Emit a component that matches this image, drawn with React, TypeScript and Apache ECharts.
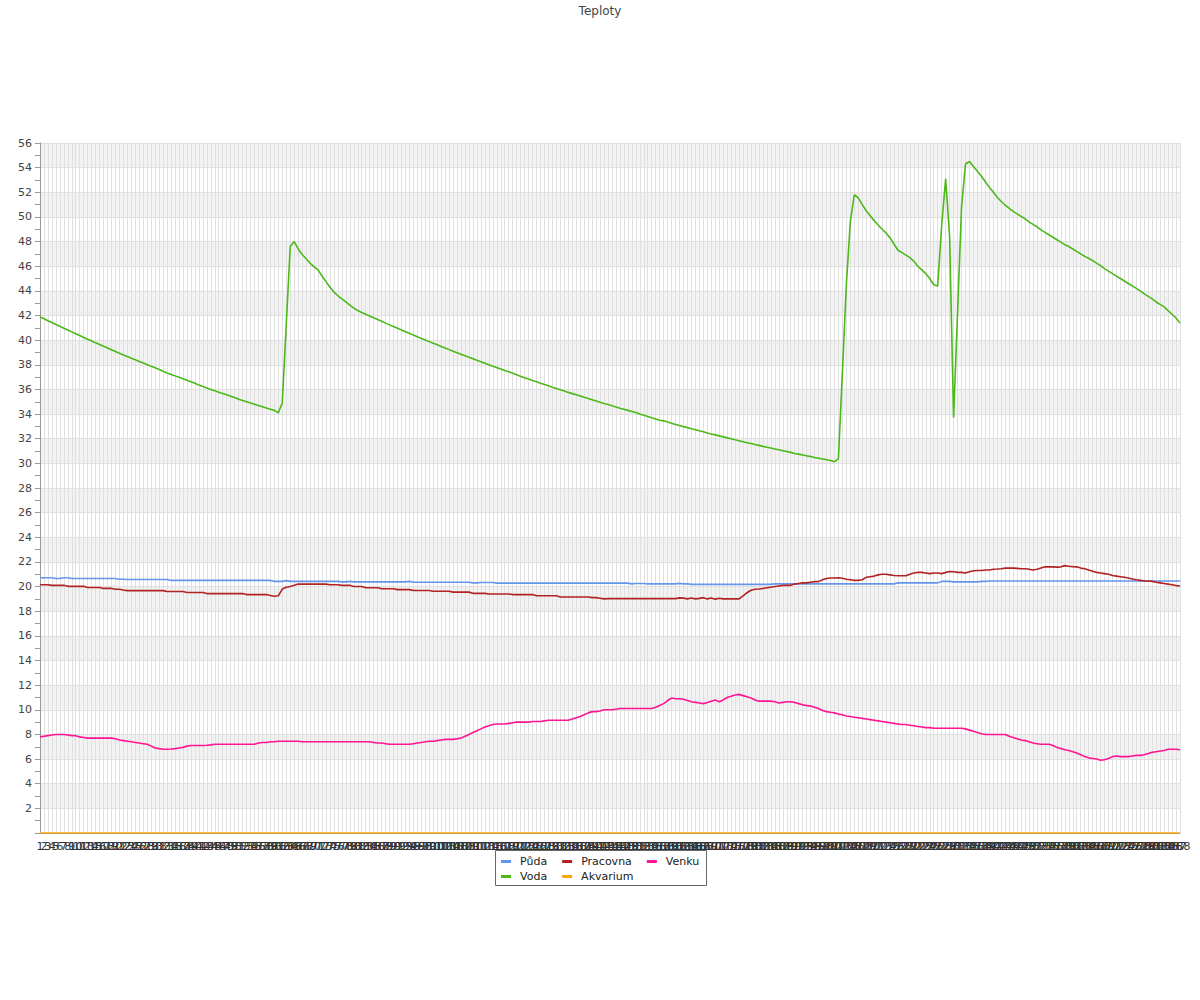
import React, { useEffect, useRef } from "react";
import * as echarts from "echarts";

const categories: string[] = Array.from({ length: 288 }, (_, i) => String(i + 1));

const puda: number[] = [
  20.72, 20.72, 20.72, 20.72, 20.65, 20.65, 20.72, 20.72, 20.65, 20.65, 20.65, 20.65,
  20.65, 20.65, 20.65, 20.65, 20.65, 20.65, 20.65, 20.65, 20.6, 20.6, 20.58, 20.58,
  20.58, 20.58, 20.58, 20.58, 20.58, 20.58, 20.58, 20.58, 20.58, 20.5, 20.5, 20.5,
  20.5, 20.5, 20.5, 20.5, 20.5, 20.5, 20.5, 20.5, 20.5, 20.5, 20.5, 20.5,
  20.5, 20.5, 20.5, 20.5, 20.5, 20.5, 20.5, 20.5, 20.5, 20.5, 20.5, 20.42,
  20.42, 20.42, 20.48, 20.42, 20.42, 20.42, 20.42, 20.42, 20.42, 20.42, 20.42, 20.42,
  20.42, 20.42, 20.42, 20.42, 20.38, 20.38, 20.42, 20.38, 20.38, 20.38, 20.38, 20.38,
  20.38, 20.38, 20.38, 20.38, 20.38, 20.38, 20.38, 20.38, 20.38, 20.42, 20.35, 20.35,
  20.35, 20.35, 20.35, 20.35, 20.35, 20.35, 20.35, 20.35, 20.35, 20.35, 20.35, 20.35,
  20.35, 20.3, 20.3, 20.33, 20.33, 20.33, 20.33, 20.28, 20.28, 20.28, 20.28, 20.28,
  20.28, 20.28, 20.28, 20.28, 20.28, 20.28, 20.28, 20.28, 20.28, 20.28, 20.28, 20.28,
  20.28, 20.28, 20.28, 20.28, 20.28, 20.28, 20.28, 20.28, 20.28, 20.28, 20.28, 20.28,
  20.28, 20.28, 20.28, 20.28, 20.28, 20.22, 20.25, 20.25, 20.25, 20.22, 20.22, 20.22,
  20.22, 20.22, 20.22, 20.22, 20.22, 20.26, 20.22, 20.22, 20.18, 20.18, 20.18, 20.18,
  20.18, 20.18, 20.18, 20.18, 20.18, 20.18, 20.18, 20.18, 20.18, 20.18, 20.18, 20.18,
  20.18, 20.18, 20.18, 20.18, 20.18, 20.22, 20.22, 20.22, 20.22, 20.22, 20.22, 20.22,
  20.22, 20.22, 20.22, 20.22, 20.22, 20.22, 20.22, 20.22, 20.22, 20.22, 20.22, 20.22,
  20.22, 20.22, 20.22, 20.22, 20.22, 20.22, 20.22, 20.22, 20.22, 20.22, 20.22, 20.22,
  20.3, 20.3, 20.3, 20.3, 20.3, 20.3, 20.3, 20.3, 20.3, 20.3, 20.3, 20.42,
  20.42, 20.42, 20.38, 20.38, 20.38, 20.38, 20.38, 20.38, 20.38, 20.42, 20.42, 20.45,
  20.45, 20.45, 20.45, 20.45, 20.45, 20.45, 20.45, 20.45, 20.45, 20.45, 20.45, 20.45,
  20.45, 20.45, 20.45, 20.45, 20.45, 20.45, 20.45, 20.45, 20.45, 20.45, 20.45, 20.45,
  20.45, 20.45, 20.45, 20.45, 20.45, 20.45, 20.45, 20.45, 20.45, 20.45, 20.45, 20.45,
  20.45, 20.45, 20.45, 20.45, 20.45, 20.45, 20.45, 20.45, 20.45, 20.45, 20.45, 20.45,
];

const voda: number[] = [
  41.9, 41.74, 41.58, 41.43, 41.27, 41.12, 40.97, 40.82, 40.67, 40.52, 40.37, 40.22,
  40.07, 39.93, 39.78, 39.64, 39.5, 39.36, 39.22, 39.08, 38.94, 38.8, 38.67, 38.53,
  38.4, 38.27, 38.14, 38.01, 37.88, 37.75, 37.62, 37.47, 37.34, 37.22, 37.1, 36.98,
  36.86, 36.74, 36.62, 36.5, 36.35, 36.23, 36.12, 36.0, 35.89, 35.78, 35.67, 35.56,
  35.45, 35.34, 35.2, 35.1, 35.0, 34.9, 34.8, 34.7, 34.6, 34.5, 34.4, 34.3,
  34.1, 34.9, 41.3, 47.6, 48.0, 47.4, 46.95, 46.6, 46.25, 45.95, 45.7, 45.2,
  44.75, 44.3, 43.9, 43.6, 43.35, 43.1, 42.85, 42.6, 42.4, 42.25, 42.1, 41.96,
  41.81, 41.67, 41.53, 41.38, 41.24, 41.1, 40.96, 40.82, 40.68, 40.55, 40.41, 40.28,
  40.14, 40.01, 39.88, 39.75, 39.62, 39.49, 39.36, 39.23, 39.1, 38.98, 38.85, 38.73,
  38.61, 38.49, 38.37, 38.25, 38.13, 38.01, 37.89, 37.77, 37.66, 37.54, 37.43, 37.32,
  37.2, 37.06, 36.95, 36.84, 36.73, 36.62, 36.51, 36.4, 36.29, 36.18, 36.08, 35.97,
  35.87, 35.76, 35.66, 35.56, 35.46, 35.36, 35.26, 35.16, 35.06, 34.96, 34.86, 34.77,
  34.67, 34.58, 34.48, 34.39, 34.3, 34.21, 34.12, 34.0, 33.9, 33.8, 33.7, 33.6,
  33.5, 33.45, 33.35, 33.25, 33.16, 33.07, 32.98, 32.9, 32.81, 32.73, 32.64, 32.56,
  32.47, 32.39, 32.31, 32.23, 32.15, 32.07, 31.99, 31.91, 31.84, 31.76, 31.68, 31.61,
  31.53, 31.46, 31.38, 31.31, 31.24, 31.17, 31.1, 31.03, 30.96, 30.89, 30.8, 30.75,
  30.68, 30.61, 30.55, 30.48, 30.42, 30.36, 30.3, 30.23, 30.14, 30.36, 37.3, 44.5,
  49.6, 51.8, 51.55, 51.0, 50.5, 50.1, 49.7, 49.35, 49.0, 48.7, 48.3, 47.8,
  47.3, 47.1, 46.9, 46.7, 46.4, 46.0, 45.7, 45.4, 45.0, 44.5, 44.4, 49.3,
  53.1, 48.4, 33.7, 42.2, 50.8, 54.3, 54.5, 54.1, 53.7, 53.3, 52.85, 52.4,
  52.0, 51.6, 51.25, 50.95, 50.7, 50.45, 50.25, 50.05, 49.85, 49.6, 49.4, 49.2,
  48.95, 48.75, 48.55, 48.35, 48.15, 47.95, 47.75, 47.6, 47.4, 47.2, 47.0, 46.8,
  46.65, 46.45, 46.25, 46.05, 45.8, 45.6, 45.4, 45.2, 45.0, 44.8, 44.6, 44.4,
  44.2, 44.0, 43.75, 43.55, 43.35, 43.1, 42.9, 42.7, 42.4, 42.1, 41.8, 41.4,
];

const pracovna: number[] = [
  20.15, 20.15, 20.15, 20.1, 20.1, 20.1, 20.1, 20.02, 20.02, 20.02, 20.02, 20.02,
  19.93, 19.93, 19.93, 19.93, 19.85, 19.85, 19.85, 19.78, 19.78, 19.72, 19.67, 19.67,
  19.67, 19.67, 19.67, 19.67, 19.67, 19.67, 19.67, 19.67, 19.6, 19.6, 19.6, 19.6,
  19.6, 19.52, 19.52, 19.52, 19.52, 19.52, 19.43, 19.43, 19.43, 19.43, 19.43, 19.43,
  19.43, 19.43, 19.43, 19.43, 19.35, 19.35, 19.35, 19.35, 19.35, 19.35, 19.28, 19.22,
  19.25, 19.8, 19.95, 20.0, 20.1, 20.2, 20.2, 20.2, 20.2, 20.2, 20.2, 20.2,
  20.2, 20.15, 20.15, 20.15, 20.1, 20.1, 20.1, 20.0, 20.0, 20.0, 19.9, 19.9,
  19.9, 19.9, 19.82, 19.82, 19.82, 19.82, 19.75, 19.75, 19.75, 19.75, 19.68, 19.68,
  19.68, 19.68, 19.68, 19.62, 19.62, 19.62, 19.62, 19.62, 19.55, 19.55, 19.55, 19.55,
  19.55, 19.45, 19.45, 19.45, 19.45, 19.4, 19.4, 19.4, 19.4, 19.4, 19.4, 19.35,
  19.35, 19.35, 19.35, 19.35, 19.35, 19.25, 19.25, 19.25, 19.25, 19.25, 19.25, 19.15,
  19.15, 19.15, 19.15, 19.15, 19.15, 19.15, 19.15, 19.1, 19.1, 19.05, 19.0, 19.02,
  19.02, 19.02, 19.02, 19.02, 19.02, 19.02, 19.02, 19.02, 19.02, 19.02, 19.02, 19.02,
  19.02, 19.02, 19.02, 19.02, 19.02, 19.08, 19.06, 19.0, 19.08, 19.0, 19.04, 19.1,
  19.0, 19.08, 18.98, 19.05, 19.0, 19.0, 19.0, 19.0, 19.0, 19.25, 19.5, 19.7,
  19.78, 19.8, 19.85, 19.9, 19.95, 20.0, 20.05, 20.1, 20.1, 20.1, 20.2, 20.25,
  20.3, 20.3, 20.35, 20.4, 20.4, 20.55, 20.65, 20.7, 20.7, 20.72, 20.68, 20.6,
  20.55, 20.5, 20.5, 20.55, 20.75, 20.8, 20.85, 20.95, 21.0, 21.0, 20.95, 20.9,
  20.88, 20.88, 20.88, 21.0, 21.1, 21.15, 21.15, 21.1, 21.05, 21.1, 21.1, 21.05,
  21.15, 21.22, 21.2, 21.15, 21.15, 21.1, 21.2, 21.28, 21.3, 21.3, 21.35, 21.35,
  21.4, 21.42, 21.45, 21.5, 21.5, 21.5, 21.48, 21.45, 21.45, 21.4, 21.35, 21.4,
  21.5, 21.6, 21.6, 21.6, 21.58, 21.6, 21.7, 21.65, 21.62, 21.6, 21.5, 21.45,
  21.35, 21.25, 21.15, 21.1, 21.05, 21.0, 20.9, 20.85, 20.8, 20.75, 20.7, 20.62,
  20.55, 20.5, 20.45, 20.45, 20.42, 20.35, 20.3, 20.25, 20.2, 20.15, 20.08, 20.05,
];

const akvarium: number[] = [
  0, 0, 0, 0, 0, 0, 0, 0, 0, 0, 0, 0, 0, 0, 0, 0, 0, 0, 0, 0, 0, 0, 0, 0,
  0, 0, 0, 0, 0, 0, 0, 0, 0, 0, 0, 0, 0, 0, 0, 0, 0, 0, 0, 0, 0, 0, 0, 0,
  0, 0, 0, 0, 0, 0, 0, 0, 0, 0, 0, 0, 0, 0, 0, 0, 0, 0, 0, 0, 0, 0, 0, 0,
  0, 0, 0, 0, 0, 0, 0, 0, 0, 0, 0, 0, 0, 0, 0, 0, 0, 0, 0, 0, 0, 0, 0, 0,
  0, 0, 0, 0, 0, 0, 0, 0, 0, 0, 0, 0, 0, 0, 0, 0, 0, 0, 0, 0, 0, 0, 0, 0,
  0, 0, 0, 0, 0, 0, 0, 0, 0, 0, 0, 0, 0, 0, 0, 0, 0, 0, 0, 0, 0, 0, 0, 0,
  0, 0, 0, 0, 0, 0, 0, 0, 0, 0, 0, 0, 0, 0, 0, 0, 0, 0, 0, 0, 0, 0, 0, 0,
  0, 0, 0, 0, 0, 0, 0, 0, 0, 0, 0, 0, 0, 0, 0, 0, 0, 0, 0, 0, 0, 0, 0, 0,
  0, 0, 0, 0, 0, 0, 0, 0, 0, 0, 0, 0, 0, 0, 0, 0, 0, 0, 0, 0, 0, 0, 0, 0,
  0, 0, 0, 0, 0, 0, 0, 0, 0, 0, 0, 0, 0, 0, 0, 0, 0, 0, 0, 0, 0, 0, 0, 0,
  0, 0, 0, 0, 0, 0, 0, 0, 0, 0, 0, 0, 0, 0, 0, 0, 0, 0, 0, 0, 0, 0, 0, 0,
  0, 0, 0, 0, 0, 0, 0, 0, 0, 0, 0, 0, 0, 0, 0, 0, 0, 0, 0, 0, 0, 0, 0, 0,
];

const venku: number[] = [
  7.8, 7.85, 7.9, 7.95, 8.0, 8.0, 8.0, 7.95, 7.9, 7.9, 7.8, 7.75,
  7.7, 7.7, 7.7, 7.7, 7.7, 7.7, 7.7, 7.65, 7.55, 7.5, 7.45, 7.4,
  7.35, 7.3, 7.25, 7.2, 7.05, 6.9, 6.85, 6.8, 6.8, 6.82, 6.85, 6.9,
  6.95, 7.05, 7.1, 7.1, 7.1, 7.1, 7.12, 7.15, 7.2, 7.2, 7.2, 7.2,
  7.2, 7.2, 7.2, 7.2, 7.2, 7.2, 7.2, 7.3, 7.35, 7.35, 7.4, 7.4,
  7.45, 7.45, 7.45, 7.45, 7.45, 7.45, 7.4, 7.4, 7.4, 7.4, 7.4, 7.4,
  7.4, 7.4, 7.4, 7.4, 7.4, 7.4, 7.4, 7.4, 7.4, 7.4, 7.4, 7.4,
  7.35, 7.3, 7.3, 7.25, 7.2, 7.2, 7.2, 7.2, 7.2, 7.2, 7.25, 7.3,
  7.35, 7.4, 7.45, 7.45, 7.5, 7.55, 7.6, 7.6, 7.6, 7.65, 7.7, 7.85,
  8.0, 8.15, 8.3, 8.45, 8.6, 8.7, 8.8, 8.85, 8.85, 8.85, 8.9, 8.95,
  9.0, 9.0, 9.0, 9.0, 9.05, 9.05, 9.05, 9.1, 9.15, 9.15, 9.15, 9.15,
  9.15, 9.15, 9.25, 9.35, 9.45, 9.6, 9.75, 9.85, 9.85, 9.9, 10.0, 10.0,
  10.0, 10.05, 10.1, 10.1, 10.1, 10.1, 10.1, 10.1, 10.1, 10.1, 10.1, 10.2,
  10.35, 10.5, 10.75, 10.95, 10.9, 10.9, 10.85, 10.75, 10.65, 10.6, 10.55, 10.5,
  10.6, 10.7, 10.8, 10.65, 10.8, 11.0, 11.1, 11.2, 11.25, 11.15, 11.05, 10.95,
  10.8, 10.7, 10.7, 10.7, 10.7, 10.65, 10.55, 10.6, 10.65, 10.65, 10.6, 10.5,
  10.4, 10.35, 10.3, 10.2, 10.1, 9.95, 9.85, 9.8, 9.75, 9.65, 9.6, 9.5,
  9.45, 9.4, 9.35, 9.3, 9.25, 9.2, 9.15, 9.1, 9.05, 9.0, 8.95, 8.9,
  8.85, 8.8, 8.8, 8.75, 8.7, 8.65, 8.6, 8.55, 8.55, 8.5, 8.5, 8.5,
  8.5, 8.5, 8.5, 8.5, 8.5, 8.45, 8.35, 8.25, 8.15, 8.05, 8.0, 8.0,
  8.0, 8.0, 8.0, 8.0, 7.85, 7.75, 7.65, 7.55, 7.5, 7.4, 7.3, 7.25,
  7.2, 7.2, 7.2, 7.1, 6.95, 6.85, 6.75, 6.7, 6.6, 6.5, 6.35, 6.2,
  6.1, 6.05, 6.0, 5.9, 5.95, 6.05, 6.2, 6.25, 6.2, 6.2, 6.2, 6.25,
  6.3, 6.3, 6.35, 6.45, 6.55, 6.6, 6.65, 6.7, 6.8, 6.8, 6.8, 6.75,
];

const seriesNames = ["Půda", "Voda", "Pracovna", "Akvarium", "Venku"];
const seriesColors = ["#6495ed", "#4cb81a", "#b22222", "#ffa500", "#ff1493"];
const seriesData = [puda, voda, pracovna, akvarium, venku];
const legendRow1 = ["Půda", "Pracovna", "Venku"];
const legendRow2 = ["Voda", "Akvarium"];

const FONT = "DejaVu Sans, sans-serif";

const legendBase = {
  orient: "horizontal",
  left: 501,
  padding: 0,
  itemGap: 15,
  itemWidth: 10,
  itemHeight: 3,
  icon: "rect",
  textStyle: { fontSize: 11, color: "#222", padding: [0, 0, 0, 4], fontFamily: FONT },
};

export default function App() {
  const ref = useRef<HTMLDivElement>(null);

  useEffect(() => {
    if (!ref.current) return;
    const chart = echarts.init(ref.current, null, { renderer: "svg" });
    chart.setOption({
      animation: false,
      backgroundColor: "#ffffff",
      textStyle: { fontFamily: FONT },
      title: {
        text: "Teploty",
        left: "center",
        top: 0,
        textStyle: { fontSize: 12, fontWeight: "normal", color: "#444", fontFamily: FONT },
      },
      legend: [
        { ...legendBase, data: legendRow1, top: 856 },
        { ...legendBase, data: legendRow2, top: 871 },
      ],
      graphic: [
        {
          type: "rect",
          shape: { x: 495.5, y: 850.5, width: 211, height: 35 },
          style: { fill: "none", stroke: "#666", lineWidth: 1 },
          silent: true,
        },
      ],
      grid: { left: 40, right: 20, top: 143, bottom: 167, containLabel: false },
      xAxis: {
        type: "category",
        data: categories,
        boundaryGap: false,
        axisLine: { show: true, lineStyle: { color: "#999" } },
        axisTick: { show: false },
        axisLabel: { interval: 0, fontSize: 11, color: "#333", margin: 8, fontFamily: FONT },
        splitLine: { show: true, interval: 0, lineStyle: { color: "#e0e0e0", width: 1 } },
      },
      yAxis: {
        type: "value",
        min: 0,
        max: 56,
        interval: 2,
        axisLine: { show: true, lineStyle: { color: "#999" } },
        axisTick: { show: true, length: 5, lineStyle: { color: "#999" } },
        minorTick: { show: true, splitNumber: 2, length: 5, lineStyle: { color: "#999" } },
        axisLabel: { fontSize: 11, color: "#444", margin: 8, showMinLabel: false, fontFamily: FONT },
        splitLine: { show: true, lineStyle: { color: "#e0e0e0", width: 1 } },
        splitArea: { show: true, areaStyle: { color: ["rgba(255,255,255,0)", "#f2f2f2"] } },
      },
      series: seriesNames.map((name, k) => ({
        name,
        type: "line",
        data: seriesData[k],
        showSymbol: false,
        symbol: "none",
        color: seriesColors[k],
        lineStyle: { width: 1.6, color: seriesColors[k] },
      })),
    });
    return () => chart.dispose();
  }, []);

  return (
    <div
      ref={ref}
      style={{ position: "absolute", left: 0, top: 0, width: 1200, height: 1000 }}
    />
  );
}
